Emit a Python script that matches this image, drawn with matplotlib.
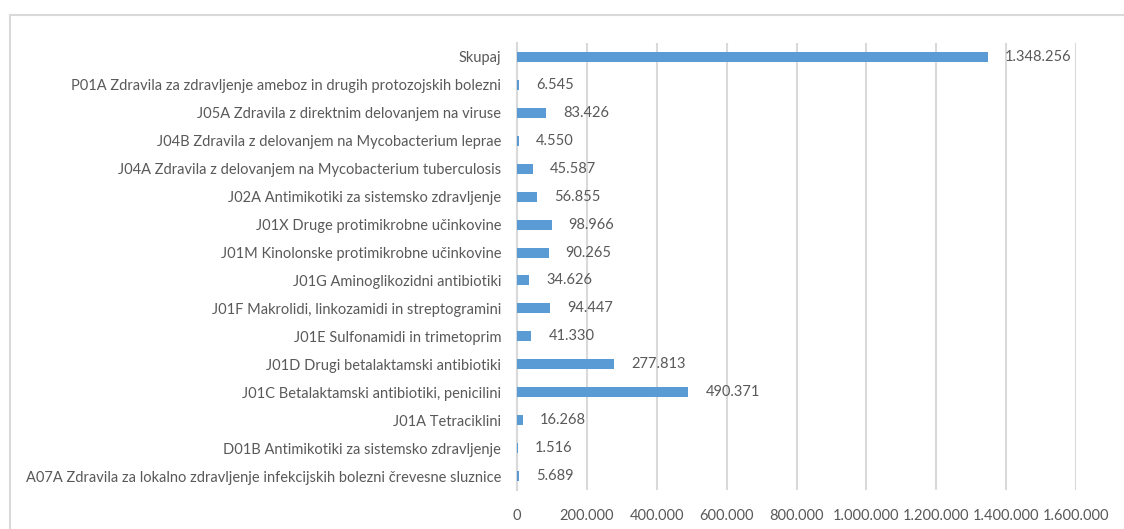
import matplotlib
matplotlib.use("Agg")
import matplotlib.pyplot as plt
from matplotlib.lines import Line2D
from matplotlib.ticker import FuncFormatter, MultipleLocator

categories = [
    "A07A Zdravila za lokalno zdravljenje infekcijskih bolezni črevesne sluznice",
    "D01B Antimikotiki za sistemsko zdravljenje",
    "J01A Tetraciklini",
    "J01C Betalaktamski antibiotiki, penicilini",
    "J01D Drugi betalaktamski antibiotiki",
    "J01E Sulfonamidi in trimetoprim",
    "J01F Makrolidi, linkozamidi in streptogramini",
    "J01G Aminoglikozidni antibiotiki",
    "J01M Kinolonske protimikrobne učinkovine",
    "J01X Druge protimikrobne učinkovine",
    "J02A Antimikotiki za sistemsko zdravljenje",
    "J04A Zdravila z delovanjem na Mycobacterium tuberculosis",
    "J04B Zdravila z delovanjem na Mycobacterium leprae",
    "J05A Zdravila z direktnim delovanjem na viruse",
    "P01A Zdravila za zdravljenje ameboz in drugih protozojskih bolezni",
    "Skupaj",
]
values = [5689, 1516, 16268, 490371, 277813, 41330, 94447, 34626,
          90265, 98966, 56855, 45587, 4550, 83426, 6545, 1348256]

x_max = 1600000
x_step = 200000

BAR = "#5B9BD5"
TXT = "#595959"
GRID = "#D9D9D9"
FS = 10.5

plt.rcParams["font.family"] = ["Lato", "DejaVu Sans"]

W, H = 1124, 529
fig = plt.figure(figsize=(W / 100, H / 100), dpi=100)
fig.patch.set_facecolor("white")

ax_l, ax_r, ax_t, ax_b = 517, 1076, 43, 490
ax = fig.add_axes([ax_l / W, 1 - ax_b / H, (ax_r - ax_l) / W, (ax_b - ax_t) / H])

fmt = lambda v: f"{int(v):,}".replace(",", ".")

y = list(range(len(categories)))
ax.barh(y, values, height=0.36, color=BAR, zorder=3)
for yi, v in zip(y, values):
    ax.annotate(fmt(v), (v, yi), xytext=(17, 0), textcoords="offset pixels",
                va="center", ha="left", fontsize=FS, color=TXT, zorder=4)

ax.set_xlim(0, x_max)
ax.set_ylim(-0.5, len(categories) - 0.5)
ax.set_yticks(y)
ax.set_yticklabels(categories)
ax.xaxis.set_major_locator(MultipleLocator(x_step))
ax.xaxis.set_major_formatter(FuncFormatter(lambda v, p: fmt(v)))
ax.tick_params(axis="both", length=0, labelsize=FS, labelcolor=TXT)
ax.tick_params(axis="y", pad=11.5)
ax.tick_params(axis="x", pad=13.5)
ax.grid(axis="x", color=GRID, linewidth=1.5, zorder=0)
for s in ["top", "right", "bottom"]:
    ax.spines[s].set_visible(False)
ax.spines["left"].set_color(GRID)
ax.spines["left"].set_linewidth(1.5)
ax.spines["left"].set_zorder(2)
ax.set_facecolor("none")

# outer chart border
bx, by = 9.5 / W, 1 - 14.5 / H
fig.add_artist(Line2D([bx, 1.01], [by, by], transform=fig.transFigure, color=GRID, lw=1.5))
fig.add_artist(Line2D([bx, bx], [by, -0.01], transform=fig.transFigure, color=GRID, lw=1.5))

fig.savefig("out.png", dpi=100, facecolor="white")
